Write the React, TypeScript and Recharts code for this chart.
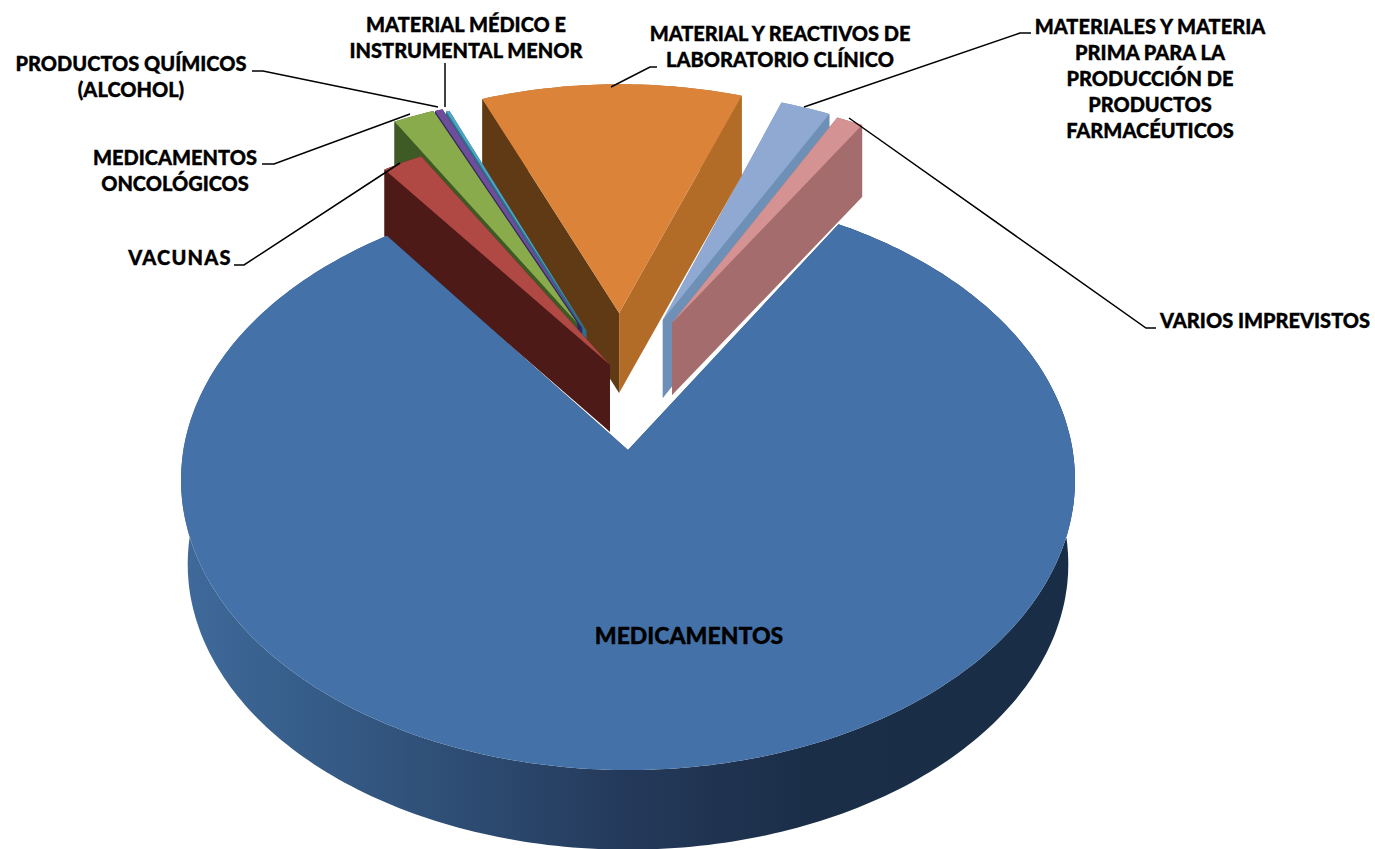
import {PieChart, Pie} from 'recharts'

// values in percent, listed counterclockwise so the slices paint back to front
const names = [
    'Materiales y materia prima', 'Material y reactivos', 'Material medico', 'Productos quimicos',
    'Oncologicos', 'Vacunas', 'Medicamentos', 'Varios',
]
const values = [2.17, 11.25, 0.14, 0.33, 1.8, 1.75, 81.39, 1.17]
const labelLines = [
    ['MATERIALES Y MATERIA', 'PRIMA PARA LA', 'PRODUCCIÓN DE', 'PRODUCTOS', 'FARMACÉUTICOS'],
    ['MATERIAL Y REACTIVOS DE', 'LABORATORIO CLÍNICO'],
    ['MATERIAL MÉDICO E', 'INSTRUMENTAL MENOR'],
    ['PRODUCTOS QUÍMICOS', '(ALCOHOL)'],
    ['MEDICAMENTOS', 'ONCOLÓGICOS'],
    ['VACUNAS'],
    ['MEDICAMENTOS'],
    ['VARIOS IMPREVISTOS'],
]

const topColors = ['#8fa9d2', '#db8439', '#4aa5c4', '#6e4e9a', '#8aab4c', '#b04844', '#4472a8', '#d59292']
const leftColors = ['#6f90b6', '#603a14', '#2f6f88', '#2f2a5e', '#3e5a25', '#4d1a17', '#24405f', '#a46c6c']
const rightColors = ['#6f90b6', '#b26c28', '#2f6f88', '#2f2a5e', '#3e5a25', '#4d1a17', '#24405f', '#a46c6c']

// how far each slice is pulled out of the pie, in pie radii, plus its thickness
const explodeU = [0.082, -0.021, -0.098, -0.108, -0.12, -0.042, 0, 0.104]
const explodeV = [-0.476, -0.503, -0.435, -0.445, -0.464, -0.307, 0, -0.464]
const rimScale = [0.96, 0.965, 0.98, 0.98, 0.96, 0.965, 1, 0.955]
const depths = [78, 80, 72, 72, 72, 67, 84, 72]
// the underside of the big slice sits further from the eye
const bottomScale = [1, 1, 1, 1, 1, 1, 0.985, 1]

const labelX = [1150, 780, 466, 131, 175, 180, 689, 1265]
const labelY = [34, 41, 32, 71, 165, 265, 644, 328]
const labelSize = [20, 20, 20, 20, 20, 20, 23, 20]
const labelSpacing = [0, 0, 0, 0, 0, 1.2, 0, 0]
const leaders: number[][][] = [
    [[1031, 33], [1020, 33], [804, 107]],
    [[657, 67], [650, 67], [611, 87]],
    [[445, 63], [445, 107]],
    [[252, 71], [263, 71], [438, 107]],
    [[262, 164], [274, 164], [410, 114]],
    [[234, 265], [244, 265], [400, 163]],
    [],
    [[1156, 328], [1146, 328], [849, 118]],
]

const CX = 628
const CY = 480
const RADIUS = 447
const TILT = 290 / 447
const PERSP = -0.103
const FONT = 'Lato, "Open Sans", sans-serif'

const project = (u: number, v: number, R: number) => {
    const den = 1 + PERSP * v
    return [
        CX + R * u * Math.sqrt(1 - PERSP * PERSP) / den,
        CY + R * TILT * (v + PERSP) / den,
    ]
}

const toPath = (pts: number[][]) => 'M' + pts.map(p => p[0].toFixed(1) + ',' + p[1].toFixed(1)).join('L') + 'Z'

const Slice3D = (props: any) => {
    const {startAngle, endAngle, outerRadius, index} = props
    const ou = explodeU[index]
    const ov = explodeV[index]
    const rim = rimScale[index]
    const depth = depths[index]
    const k = bottomScale[index]
    // recharts angles run counterclockwise from east, the disc uses clockwise from north
    const first = 90 - endAngle
    const last = 90 - startAngle
    const steps = Math.max(4, Math.ceil(last - first))
    const arc: number[][] = []
    for (let i = 0; i <= steps; i++) {
        const t = (first + (last - first) * i / steps) * Math.PI / 180
        arc.push(project(ou + rim * Math.sin(t), ov - rim * Math.cos(t), outerRadius))
    }
    const apex = project(ou, ov, outerRadius)
    const down = (p: number[]) => [CX + (p[0] - CX) * k, CY + (p[1] - CY) * k + depth]
    const wallFill = index === 6 ? 'url(#mainWall)' : rightColors[index]
    return (
        <g>
            {index === 6 && (
                <defs>
                    <linearGradient id='mainWall' gradientUnits='userSpaceOnUse' x1={181} x2={1075} y1={0} y2={0}>
                        <stop offset='0' stopColor='#3f6a9b'/>
                        <stop offset='0.14' stopColor='#365d89'/>
                        <stop offset='0.33' stopColor='#2d4b71'/>
                        <stop offset='0.5' stopColor='#24395a'/>
                        <stop offset='0.7' stopColor='#1b2e48'/>
                        <stop offset='1' stopColor='#1a2d47'/>
                    </linearGradient>
                </defs>
            )}
            <path d={toPath([...arc, ...arc.slice().reverse().map(down)])} fill={wallFill}/>
            <path d={toPath([apex, arc[0], down(arc[0]), down(apex)])} fill={leftColors[index]}/>
            <path d={toPath([apex, arc[arc.length - 1], down(arc[arc.length - 1]), down(apex)])} fill={rightColors[index]}/>
            <path d={toPath([apex, ...arc])} fill={topColors[index]}/>
        </g>
    )
}

const SliceLabel = (props: any) => {
    const i = props.index
    return (
        <text
            x={labelX[i]}
            y={labelY[i]}
            textAnchor='middle'
            fontFamily={FONT}
            fontWeight={900}
            fontSize={labelSize[i]}
            letterSpacing={labelSpacing[i]}
            fill='#000'
            stroke='#000'
            strokeWidth={0.35}
        >
            {labelLines[i].map((line, n) => (
                <tspan key={n} x={labelX[i]} y={labelY[i] + n * 26}>{line}</tspan>
            ))}
        </text>
    )
}

const LeaderLine = (props: any) => {
    const pts = leaders[props.index]
    if (!pts.length) return <g/>
    return <polyline points={pts.map(p => p.join(',')).join(' ')} fill='none' stroke='#000' strokeWidth={1.5}/>
}

const data = names.map((name, i) => ({name, value: values[i]}))

export default function App() {
    return (
        <div style={{position: 'absolute', left: 0, top: 0, width: 1375, height: 849, overflow: 'hidden'}}>
            <PieChart width={1375} height={849} margin={{top: 0, right: 0, bottom: 0, left: 0}}>
                <Pie
                    data={data}
                    dataKey='value'
                    nameKey='name'
                    cx={CX}
                    cy={CY}
                    innerRadius={0}
                    outerRadius={RADIUS}
                    startAngle={63.2}
                    endAngle={423.2}
                    stroke='none'
                    shape={Slice3D}
                    label={SliceLabel}
                    labelLine={LeaderLine}
                    isAnimationActive={false}
                />
            </PieChart>
        </div>
    )
}
